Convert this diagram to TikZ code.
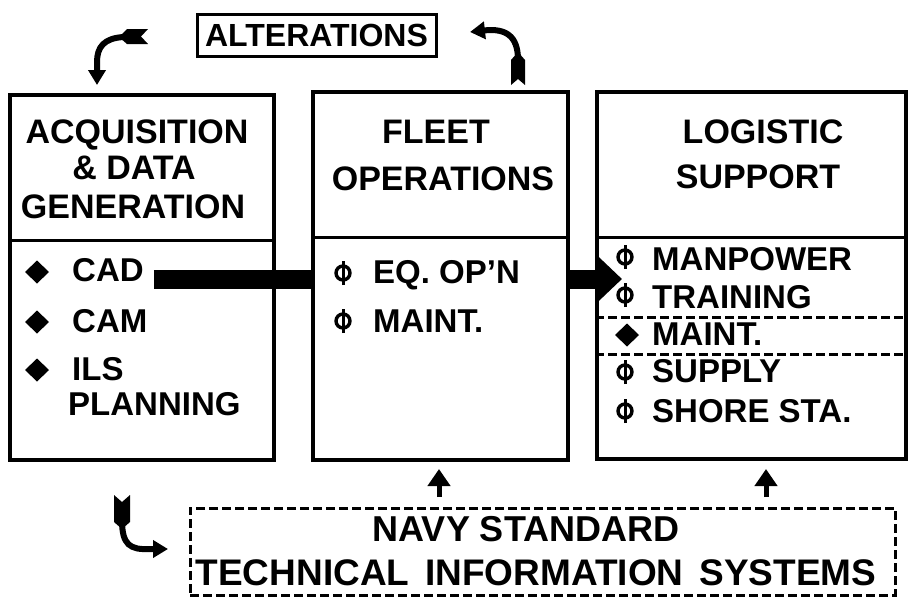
\documentclass[tikz,border=0pt]{standalone}
\usepackage{fontspec}
\setmainfont{Liberation Sans}
\usetikzlibrary{arrows.meta}
\tikzset{
  box/.style={draw, line width=3.5pt, fill=white, inner sep=0pt},
  headtxt/.style={font=\fontsize{34}{40}\selectfont\bfseries, anchor=base, inner sep=0pt},
  itemtxt/.style={font=\fontsize{33}{40}\selectfont\bfseries, anchor=base west, inner sep=0pt},
  bottomtxt/.style={font=\fontsize{36}{40}\selectfont\bfseries, anchor=base, inner sep=0pt},
  divider/.style={line width=3pt},
  dashdiv/.style={line width=3pt, dash pattern=on 9pt off 4pt},
  curvearrow/.style={line width=6pt, -{Triangle[length=15pt,width=17pt]}},
  uparrow/.style={line width=5pt, -{Triangle[length=17pt,width=22pt]}},
  bigarrow/.style={line width=19pt, -{Triangle[length=24pt,width=44pt]}},
  obullet/.pic={\draw[line width=3.4pt] (0,0) circle (7pt);
                \draw[line width=3pt] (0pt,-12pt) -- (0pt,12pt);},
  fbullet/.pic={\fill (-12pt,0pt) -- (0pt,-11.5pt) -- (12pt,0pt) -- (0pt,11.5pt) -- cycle;
                \fill (0,0) circle (8pt);},
}
\begin{document}
\begin{tikzpicture}[x=1pt,y=-1pt]
\useasboundingbox (0,0) rectangle (909,598);
\fill[white] (0,0) rectangle (909,598);

% ALTERATIONS
\node[box, line width=3pt, minimum width=239pt, minimum height=42pt,
      font=\fontsize{32}{36}\selectfont\bfseries] (alt) at (316.5,35) {ALTERATIONS};

% left box
\node[box, minimum width=264pt, minimum height=365pt] (acq) at (142,277.5) {};
\draw[divider] (acq.west |- 0,240) -- (acq.east |- 0,240);
\node[headtxt] (acq1) at (137,143) {ACQUISITION};
\node[headtxt] (acq2) at (134,179) {\& DATA};
\node[headtxt] (acq3) at (133,218) {GENERATION};
\pic at (37,272) {fbullet};
\pic at (37,322) {fbullet};
\pic at (37,370) {fbullet};
\node[itemtxt] (cad) at (72,281) {CAD};
\node[itemtxt] (cam) at (72,332) {CAM};
\node[itemtxt] (ils) at (72,380) {ILS};
\node[itemtxt] (plan) at (68,415) {PLANNING};

% right box
\node[box, minimum width=309pt, minimum height=367pt] (log) at (751.5,275.5) {};
\draw[divider] (log.west |- 0,237) -- (log.east |- 0,237);
\draw[dashdiv] (log.west |- 0,317) -- (log.east |- 0,317);
\draw[dashdiv] (log.west |- 0,354) -- (log.east |- 0,354);
\node[headtxt] (log1) at (763,143) {LOGISTIC};
\node[headtxt] (log2) at (758,188) {SUPPORT};
\pic at (625,257) {obullet};
\pic at (625,295) {obullet};
\pic at (627,335) {fbullet};
\pic at (625,372) {obullet};
\pic at (625,411) {obullet};
\node[itemtxt] (man) at (652,270) {MANPOWER};
\node[itemtxt] (trn) at (652,308) {TRAINING};
\node[itemtxt] (mnt2) at (652,345) {MAINT.};
\node[itemtxt] (sup) at (652,382) {SUPPLY};
\node[itemtxt] (shr) at (652,422) {SHORE STA.};

% big arrow (behind middle box)
\coordinate (tipA) at (622,279);
\draw[bigarrow] ([xshift=10pt]cad.east |- tipA) -- (tipA);

% middle box
\node[box, minimum width=255pt, minimum height=368pt] (flt) at (440.5,276) {};
\draw[divider] (flt.west |- 0,237) -- (flt.east |- 0,237);
\node[headtxt] (flt1) at (436,143) {FLEET};
\node[headtxt] (flt2) at (443,190) {OPERATIONS};
\pic at (343,273) {obullet};
\pic at (343,321) {obullet};
\node[itemtxt] (eq) at (373,283) {EQ. OP'N};
\node[itemtxt] (mnt1) at (373,332) {MAINT.};

% bottom dashed box
\node[draw, dashdiv, minimum width=705pt, minimum height=87pt, inner sep=0pt] (nstis) at (542.5,551.5) {};
\node[bottomtxt] (ns1) at (526,541) {NAVY STANDARD};
\node[bottomtxt, font=\fontsize{37}{40}\selectfont\bfseries] (ns2) at (536,585)
     {TECHNICAL\hspace{16pt}INFORMATION\hspace{16pt}SYSTEMS};

% up arrows
\coordinate (u1s) at (439,497); \coordinate (u1e) at (439,469);
\coordinate (u2s) at (766,497); \coordinate (u2e) at (766,469);
\draw[uparrow] (u1s) -- (u1e);
\draw[uparrow] (u2s) -- (u2e);

% curved arrow 1 (alterations -> acquisition)
\coordinate (c1s) at (124,37); \coordinate (c1e) at (97,85);
\fill (119,37) -- (127,29) -- (148,29) -- (141,36.5) -- (148,44) -- (127,44) -- cycle;
\draw[curvearrow] (c1s) .. controls (104,38) and (97,47) .. (97,62) -- (c1e);

% curved arrow 2 (fleet -> alterations)
\coordinate (c2s) at (518,60); \coordinate (c2e) at (470,32);
\fill (518,52) -- (525,60) -- (525,85) -- (518,79) -- (511,85) -- (511,60) -- cycle;
\draw[curvearrow] (c2s) .. controls (518,36) and (506,28) .. (c2e);

% curved arrow 3 (acquisition -> NSTIS)
\coordinate (c3s) at (122,520); \coordinate (c3e) at (168,549);
\fill (114,495) -- (122,502) -- (130,495) -- (130,522) -- (122,529) -- (114,522) -- cycle;
\draw[curvearrow] (c3s) .. controls (122,545) and (130,550) .. (150,549) -- (c3e);
\end{tikzpicture}
\end{document}
